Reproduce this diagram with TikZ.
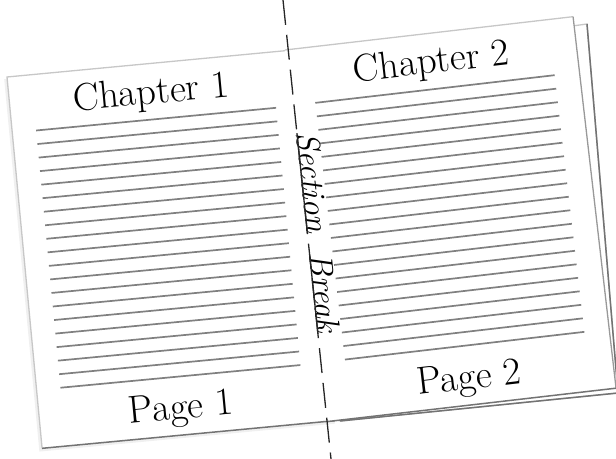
\documentclass[tikz,border=0pt]{standalone}
\usepackage{tikz}
\usetikzlibrary{calc}

\begin{document}
\begin{tikzpicture}[x=1bp, y=-1bp,
    ruled/.style={black!50, line width=1.7bp},
    edgelight/.style={black!22, line width=1.3bp},
    edgedark/.style={black!55, line width=1.5bp},
    heading/.style={font=\fontsize{39}{44}\selectfont, anchor=base},
    breakline/.style={black!85, line width=1.3bp, dash pattern=on 25bp off 10bp},
    breakword/.style={font=\itshape\fontsize{33}{36}\selectfont, rotate=-84, anchor=base west, inner sep=0pt},
    underline/.style={black!85, line width=1.3bp}]
    \useasboundingbox (0,0) rectangle (616,459);

    % Back sheet under page 2
    \draw[edgelight, fill=white] (320,60) -- (587,24) -- (618,393) -- (340,421) -- cycle;
    \draw[edgedark] (587,24) -- (618,393) -- (340,421);

    % Page 1
    \begin{scope}[shift={(7,77)}, rotate=5.4, transform shape]
        \fill[black!6] (-3,2) -- (294,2) -- (294,376) -- (-3,376) -- cycle;
        \fill[white] (0,0) -- (294,0) -- (294,373) -- (0,373) -- cycle;
        \draw[edgelight] (294,0) -- (0,0) -- (0,373);
        \draw[edgedark] (0,373) -- (294,373);
        \foreach \i in {0,...,19}
            \draw[ruled] (24,{56+13.6*\i}) -- (265,{56+13.6*\i});
        \node[heading] (chap1) at (142,40.5) {Chapter 1};
        \node[heading] (page1) at (142,357) {Page 1};
    \end{scope}

    % Page 2
    \begin{scope}[shift={(285,50)}, rotate=6.6, transform shape]
        \fill[white] (0,0) -- (290,0) -- (290,374) -- (0,374) -- cycle;
        \draw[edgelight] (0,0) -- (290,0);
        \draw[black!40, line width=1.3bp] (290,0) -- (290,374);
        \draw[edgedark] (290,374) -- (0,374);
        \foreach \i in {0,...,19}
            \draw[ruled] (24,{56+13.6*\i}) -- (265,{56+13.6*\i});
        \node[heading] (chap2) at (144,40) {Chapter 2};
        \node[heading] (page2) at (145,358) {Page 2};
    \end{scope}

    % Section break
    \coordinate (breaktop) at (283,0);
    \coordinate (breakbot) at (331,459);
    \draw[breakline] (breaktop) -- (breakbot);
    \node[breakword] (sec) at ($(breaktop)!0.29!(breakbot)$) {Section};
    \node[breakword] (brk) at ($(breaktop)!0.555!(breakbot)$) {Break};
    \draw[underline] (sec.base west) -- (sec.base east);
    \draw[underline] (brk.base west) -- (brk.base east);
\end{tikzpicture}
\end{document}
